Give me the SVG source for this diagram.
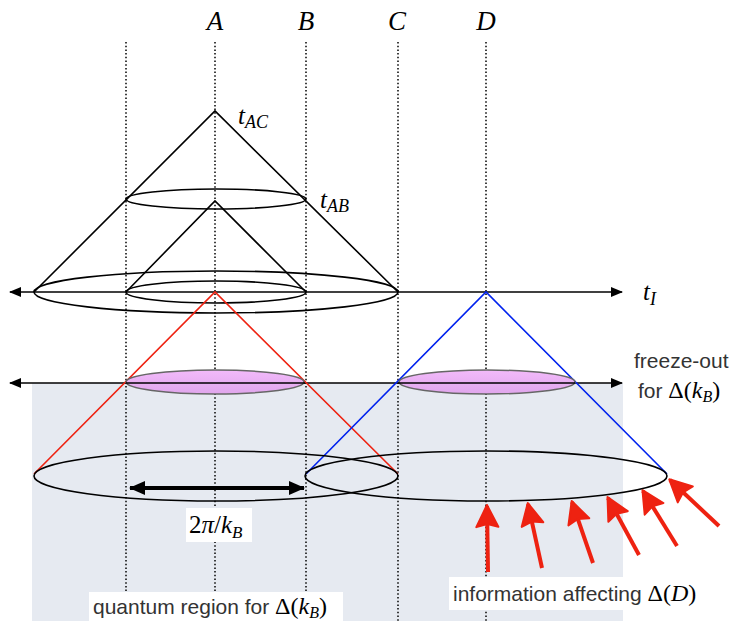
<svg xmlns="http://www.w3.org/2000/svg" width="737" height="621" viewBox="0 0 737 621">
<defs>
<linearGradient id="pink" x1="0" y1="0" x2="0" y2="1">
<stop offset="0" stop-color="#f2bafa"/>
<stop offset="1" stop-color="#e0a6ec"/>
</linearGradient>
<marker id="ax" markerWidth="12" markerHeight="10" refX="11" refY="5" orient="auto-start-reverse" markerUnits="userSpaceOnUse">
<path d="M0,0 L12,5 L0,10 z" fill="#000"/>
</marker>
<marker id="bx" markerWidth="16" markerHeight="16" refX="15" refY="8" orient="auto-start-reverse" markerUnits="userSpaceOnUse">
<path d="M0,1 L16,8 L0,15 z" fill="#000"/>
</marker>
<marker id="rx" markerWidth="26" markerHeight="26" refX="23" refY="13" orient="auto" markerUnits="userSpaceOnUse">
<path d="M2,2 L24,13 L2,24 L5,13 z" fill="#ee2211" stroke="#ee2211" stroke-width="2" stroke-linejoin="round"/>
</marker>
</defs>
<style>
.dot{stroke:#111;stroke-width:1.6;stroke-dasharray:1.5 2.2;fill:none}
.blk{stroke:#000;stroke-width:1.6;fill:none}
.red{stroke:#ee2211;stroke-width:1.6;fill:none}
.blue{stroke:#0022ee;stroke-width:1.6;fill:none}
.pk{fill:url(#pink);stroke:#666;stroke-width:1.5}
.axis{stroke:#000;stroke-width:1.6;fill:none}
.ra{stroke:#ee2211;stroke-width:4;fill:none}
.lab{font-family:"Liberation Serif",serif;font-style:italic;fill:#000}
.sans{font-family:"Liberation Sans","Open Sans",sans-serif;fill:#333;font-size:21px}
.ser{font-family:"Liberation Serif",serif;fill:#000}
</style>
<rect x="32" y="383" width="591" height="238" fill="#e6eaf1"/>
<g id="verticals">
<line class="dot" x1="126" y1="42" x2="126" y2="621"/>
<line class="dot" x1="215" y1="42" x2="215" y2="621"/>
<line class="dot" x1="306" y1="42" x2="306" y2="621"/>
<line class="dot" x1="398" y1="42" x2="398" y2="621"/>
<line class="dot" x1="486" y1="42" x2="486" y2="621"/>
</g>
<g id="labels-top">
<text class="lab" x="215" y="30" font-size="27" text-anchor="middle">A</text>
<text class="lab" x="306" y="30" font-size="27" text-anchor="middle">B</text>
<text class="lab" x="397" y="30" font-size="27" text-anchor="middle">C</text>
<text class="lab" x="486" y="30" font-size="27" text-anchor="middle">D</text>
</g>
<g id="outer-cone">
<path class="blk" d="M34,292 L215,111 L398,292"/>
<ellipse class="blk" cx="216" cy="292" rx="182" ry="21"/>
<ellipse class="blk" cx="216" cy="199" rx="90" ry="10"/>
<text class="lab" x="238" y="124" font-size="25">t<tspan font-size="18" dy="4">AC</tspan></text>
</g>
<g id="inner-cone">
<path class="blk" d="M126,292 L215,201 L306,292"/>
<ellipse class="blk" cx="216" cy="292" rx="90" ry="11"/>
<text class="lab" x="320" y="208" font-size="25">t<tspan font-size="18" dy="4">AB</tspan></text>
</g>
<g id="connectors">
<line class="axis" x1="10" y1="292" x2="622" y2="292" marker-start="url(#ax)" marker-end="url(#ax)"/>
<line class="axis" x1="10" y1="383" x2="622" y2="383" marker-start="url(#ax)" marker-end="url(#ax)"/>
<line x1="130" y1="488" x2="304" y2="488" stroke="#000" stroke-width="4" marker-start="url(#bx)" marker-end="url(#bx)"/>
<line class="ra" x1="488" y1="572" x2="487" y2="506" marker-end="url(#rx)"/>
<line class="ra" x1="542" y1="568" x2="528" y2="504" marker-end="url(#rx)"/>
<line class="ra" x1="593" y1="563" x2="572" y2="502" marker-end="url(#rx)"/>
<line class="ra" x1="639" y1="555" x2="608" y2="498" marker-end="url(#rx)"/>
<line class="ra" x1="677" y1="546" x2="643" y2="491" marker-end="url(#rx)"/>
<line class="ra" x1="719" y1="526" x2="670" y2="480" marker-end="url(#rx)"/>
</g>
<g id="red-cone">
<path class="red" d="M34,474 L215,292 L398,474"/>
<ellipse class="pk" cx="215" cy="382" rx="89" ry="12"/>
</g>
<g id="blue-cone">
<path class="blue" d="M306,474 L486,292 L667,474"/>
<ellipse class="pk" cx="487" cy="382" rx="88" ry="12"/>
</g>
<line class="axis" x1="126" y1="383" x2="305" y2="383"/>
<line class="axis" x1="398" y1="383" x2="575" y2="383"/>
<g id="bottom-ellipses">
<ellipse class="blk" cx="216" cy="476" rx="182" ry="25"/>
<ellipse class="blk" cx="486" cy="476" rx="181" ry="25"/>
</g>
<g id="label-tI">
<text class="lab" x="643" y="300" font-size="25">t<tspan font-size="18" dy="5">I</tspan></text>
</g>
<g id="label-freeze">
<text class="sans" x="634" y="368">freeze-out</text>
<text class="sans" x="638" y="398">for <tspan class="ser" font-size="24">Δ(<tspan font-style="italic">k</tspan><tspan font-style="italic" font-size="16" dy="4">B</tspan><tspan dy="-4">)</tspan></tspan></text>
</g>
<g id="label-2pi">
<rect x="186" y="508" width="66" height="34" fill="#fff"/>
<text class="ser" x="189" y="533" font-size="25">2<tspan font-style="italic">π</tspan>/<tspan font-style="italic">k</tspan><tspan font-style="italic" font-size="17" dy="5">B</tspan></text>
</g>
<g id="label-quantum">
<rect x="89" y="592" width="254" height="29" fill="#fff"/>
<text class="sans" x="93" y="614">quantum region for <tspan class="ser" font-size="24">Δ(<tspan font-style="italic">k</tspan><tspan font-style="italic" font-size="16" dy="4">B</tspan><tspan dy="-4">)</tspan></tspan></text>
</g>
<g id="label-info">
<rect x="449" y="577" width="261" height="33" fill="#fff"/>
<text class="sans" x="453" y="601">information affecting <tspan class="ser" font-size="24">Δ(<tspan font-style="italic">D</tspan>)</tspan></text>
</g>
</svg>
